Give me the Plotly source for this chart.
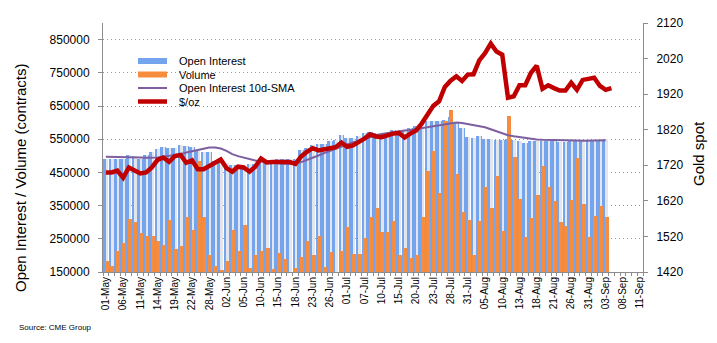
import plotly.graph_objects as go

# ---------------- data ----------------
dates = [
    "01-May", "04-May", "05-May", "06-May", "07-May", "08-May", "11-May", "12-May", "13-May", "14-May",
    "15-May", "18-May", "19-May", "20-May", "21-May", "22-May", "26-May", "27-May", "28-May", "29-May",
    "01-Jun", "02-Jun", "03-Jun", "04-Jun", "05-Jun", "08-Jun", "09-Jun", "10-Jun", "11-Jun", "12-Jun",
    "15-Jun", "16-Jun", "17-Jun", "18-Jun", "19-Jun", "22-Jun", "23-Jun", "24-Jun", "25-Jun", "26-Jun",
    "29-Jun", "30-Jun", "01-Jul", "02-Jul", "06-Jul", "07-Jul", "08-Jul", "09-Jul", "10-Jul", "13-Jul",
    "14-Jul", "15-Jul", "16-Jul", "17-Jul", "20-Jul", "21-Jul", "22-Jul", "23-Jul", "24-Jul", "27-Jul",
    "28-Jul", "29-Jul", "30-Jul", "31-Jul", "03-Aug", "04-Aug", "05-Aug", "06-Aug", "07-Aug", "10-Aug",
    "11-Aug", "12-Aug", "13-Aug", "14-Aug", "17-Aug", "18-Aug", "19-Aug", "20-Aug", "21-Aug", "24-Aug",
    "25-Aug", "26-Aug", "27-Aug", "28-Aug", "31-Aug", "01-Sep", "02-Sep", "03-Sep", "04-Sep", "07-Sep",
    "08-Sep", "09-Sep", "10-Sep", "11-Sep",
]

open_interest = [
    490000, 490000, 491000, 491000, 502000, 500000, 491000, 501000, 511000, 519000,
    526000, 523000, 525000, 532000, 529000, 526000, 517000, 511000, 511000, 485000,
    485000, 478000, 471000, 471000, 469000, 474000, 476000, 484000, 484000, 485000,
    489000, 489000, 491000, 491000, 516000, 523000, 532000, 535000, 537000, 544000,
    549000, 562000, 554000, 555000, 559000, 569000, 573000, 570000, 566000, 570000,
    578000, 576000, 576000, 584000, 590000, 594000, 606000, 606000, 606000, 609000,
    616000, 603000, 585000, 558000, 554000, 561000, 552000, 552000, 549000, 549000,
    551000, 549000, 546000, 540000, 544000, 544000, 544000, 544000, 544000, 543000,
    543000, 544000, 544000, 544000, 544000, 544000, 544000, 551000,
]

volume = [
    184000, 167000, 212000, 236000, 309000, 300000, 266000, 258000, 257000, 242000,
    230000, 307000, 218000, 228000, 315000, 276000, 484000, 316000, 200000, 167000,
    155000, 184000, 278000, 212000, 293000, 163000, 200000, 214000, 221000, 160000,
    206000, 190000, 145000, 163000, 196000, 242000, 202000, 258000, 164000, 211000,
    145000, 214000, 286000, 205000, 205000, 252000, 317000, 342000, 272000, 272000,
    305000, 200000, 221000, 191000, 202000, 317000, 454000, 514000, 387000, 605000,
    638000, 444000, 332000, 308000, 200000, 305000, 405000, 344000, 440000, 274000,
    619000, 496000, 371000, 256000, 313000, 383000, 470000, 407000, 365000, 301000,
    289000, 368000, 492000, 354000, 256000, 319000, 350000, 316000,
]

oi_sma10 = [
    497000, 497000, 496000, 496000, 497000, 497000, 495000, 494000, 494000, 495000,
    497000, 499000, 502000, 505000, 510000, 514000, 518000, 522000, 525000, 525000,
    522000, 515000, 505000, 499000, 494000, 490000, 486000, 483000, 481000, 479000,
    477000, 476000, 476000, 477000, 481000, 487000, 494000, 501000, 508000, 515000,
    521000, 528000, 534000, 540000, 546000, 552000, 557000, 562000, 566000, 569000,
    572000, 574000, 576000, 578000, 581000, 584000, 587000, 590000, 593000, 596000,
    599000, 600000, 599000, 596000, 593000, 590000, 586000, 580000, 574000, 567000,
    562000, 559000, 556000, 553000, 551000, 549000, 548000, 548000, 547000, 547000,
    547000, 547000, 546000, 545000, 546000, 547000, 547000, 547000,
]

gold = [
    1700, 1700, 1705, 1685, 1714, 1705, 1697, 1700, 1714, 1735,
    1742, 1730, 1746, 1749, 1727, 1734, 1709, 1709, 1718, 1730,
    1736, 1712, 1702, 1716, 1714, 1702, 1716, 1739, 1728, 1729,
    1729, 1730, 1729, 1724, 1745, 1758, 1768, 1762, 1766, 1769,
    1771, 1784, 1772, 1776, 1784, 1795, 1807, 1801, 1799, 1805,
    1809, 1811, 1798, 1809, 1818, 1838, 1863, 1887, 1900, 1940,
    1958, 1970, 1957, 1975, 1976, 2015, 2035, 2062, 2040, 2031,
    1910, 1914, 1945, 1945, 1980, 2000, 1935, 1945, 1937, 1930,
    1930, 1952, 1932, 1960, 1963, 1966, 1943, 1932, 1937,
]

left_ticks = [150000, 250000, 350000, 450000, 550000, 650000, 750000, 850000]
right_ticks = [1420, 1520, 1620, 1720, 1820, 1920, 2020, 2120]
label_step = 3

# ---------------- style ----------------
FONT = "Liberation Sans, Arial, sans-serif"
C_BLUE = "#74a4ee"
C_GRAY = "#e2e5ea"
C_ORANGE = "#f68c3e"
C_PURPLE = "#7d5fa0"
C_RED = "#c00000"
AX = "#8c8c8c"

W, H = 717, 343
L, R, T, B = 103, 74, 23, 71
PW, PH = W - L - R, H - T - B

def px(x):
    return (x - L) / PW

def py(y):
    return (H - B - y) / PH

n_cat = len(dates)
xi = list(range(n_cat))

fig = go.Figure()
fig.add_trace(go.Bar(x=xi[:len(open_interest)], y=open_interest, width=0.95, offset=-0.5,
                     marker=dict(color=C_BLUE, line=dict(width=0)), name="Open Interest"))
fig.add_trace(go.Bar(x=xi[:len(open_interest)], y=open_interest, width=0.4, offset=-0.05,
                     marker=dict(color=C_GRAY, line=dict(width=0)), showlegend=False))
fig.add_trace(go.Bar(x=xi[:len(volume)], y=volume, width=0.7, offset=-0.2,
                     marker=dict(color=C_ORANGE, line=dict(width=0)), name="Volume"))
fig.add_trace(go.Scatter(x=xi[:len(oi_sma10)], y=oi_sma10, mode="lines",
                         line=dict(color=C_PURPLE, width=2), name="Open Interest 10d-SMA"))
fig.add_trace(go.Scatter(x=xi[:len(gold)], y=gold, mode="lines", yaxis="y2",
                         line=dict(color=C_RED, width=4.5, shape="linear"), name="$/oz"))

tickvals = xi[::label_step]
ticktext = dates[::label_step]

fig.update_layout(
    width=W, height=H,
    margin=dict(l=L, r=R, t=T, b=B, pad=0),
    paper_bgcolor="white", plot_bgcolor="white",
    barmode="overlay", bargap=0,
    showlegend=False,
    font=dict(family=FONT, color="black", size=12),
    xaxis=dict(
        range=[-0.5, n_cat - 0.5], tickmode="array", tickvals=tickvals, ticktext=ticktext,
        tickangle=-90, tickfont=dict(size=10), ticks="", showgrid=False, zeroline=False,
        showline=True, linecolor=AX, linewidth=1,
        minor=dict(ticks="outside", tick0=-0.5, dtick=1, ticklen=3, tickcolor=AX, showgrid=False),
    ),
    yaxis=dict(
        range=[150000, 900000], tickmode="array", tickvals=left_ticks,
        ticktext=[str(v) for v in left_ticks], tickfont=dict(size=12),
        showgrid=True, gridcolor="#9a9a9a", griddash="1px,3px", gridwidth=1, zeroline=False,
        showline=True, linecolor=AX, linewidth=1, ticks="outside", ticklen=4, tickcolor=AX,
        ticklabelstandoff=6,
    ),
    yaxis2=dict(
        range=[1420, 2120], overlaying="y", side="right", tickmode="array", tickvals=right_ticks,
        tickfont=dict(size=12), showgrid=False, zeroline=False,
        showline=True, linecolor=AX, linewidth=1, ticks="outside", ticklen=4, tickcolor=AX,
        ticklabelstandoff=6,
    ),
)

# axis titles
fig.add_annotation(text="Open Interest / Volume (contracts)", xref="paper", yref="paper",
                   x=px(20), y=py(178), textangle=-90, showarrow=False, font=dict(size=15),
                   xanchor="center", yanchor="middle")
fig.add_annotation(text="Gold spot", xref="paper", yref="paper",
                   x=px(698), y=py(154), textangle=-90, showarrow=False, font=dict(size=15),
                   xanchor="center", yanchor="middle")
fig.add_annotation(text="Source: CME Group", xref="paper", yref="paper",
                   x=px(17), y=py(327), showarrow=False, font=dict(size=8),
                   xanchor="left", yanchor="middle")

# custom legend
leg_items = [("Open Interest", "rect", C_BLUE), ("Volume", "rect", C_ORANGE),
             ("Open Interest 10d-SMA", "line", C_PURPLE), ("$/oz", "thick", C_RED)]
row_y = [61, 74.5, 88, 101.5]
for (label, kind, col), yy in zip(leg_items, row_y):
    if kind == "rect":
        fig.add_shape(type="rect", xref="paper", yref="paper", x0=px(138), x1=px(167),
                      y0=py(yy - 3), y1=py(yy + 3), fillcolor=col, line=dict(width=0))
    else:
        fig.add_shape(type="line", xref="paper", yref="paper", x0=px(138), x1=px(167),
                      y0=py(yy), y1=py(yy), line=dict(color=col, width=2 if kind == "line" else 4.5))
    fig.add_annotation(text=label, xref="paper", yref="paper", x=px(177), y=py(yy),
                       showarrow=False, font=dict(size=11), xanchor="left", yanchor="middle")

fig.write_html("out.html")
